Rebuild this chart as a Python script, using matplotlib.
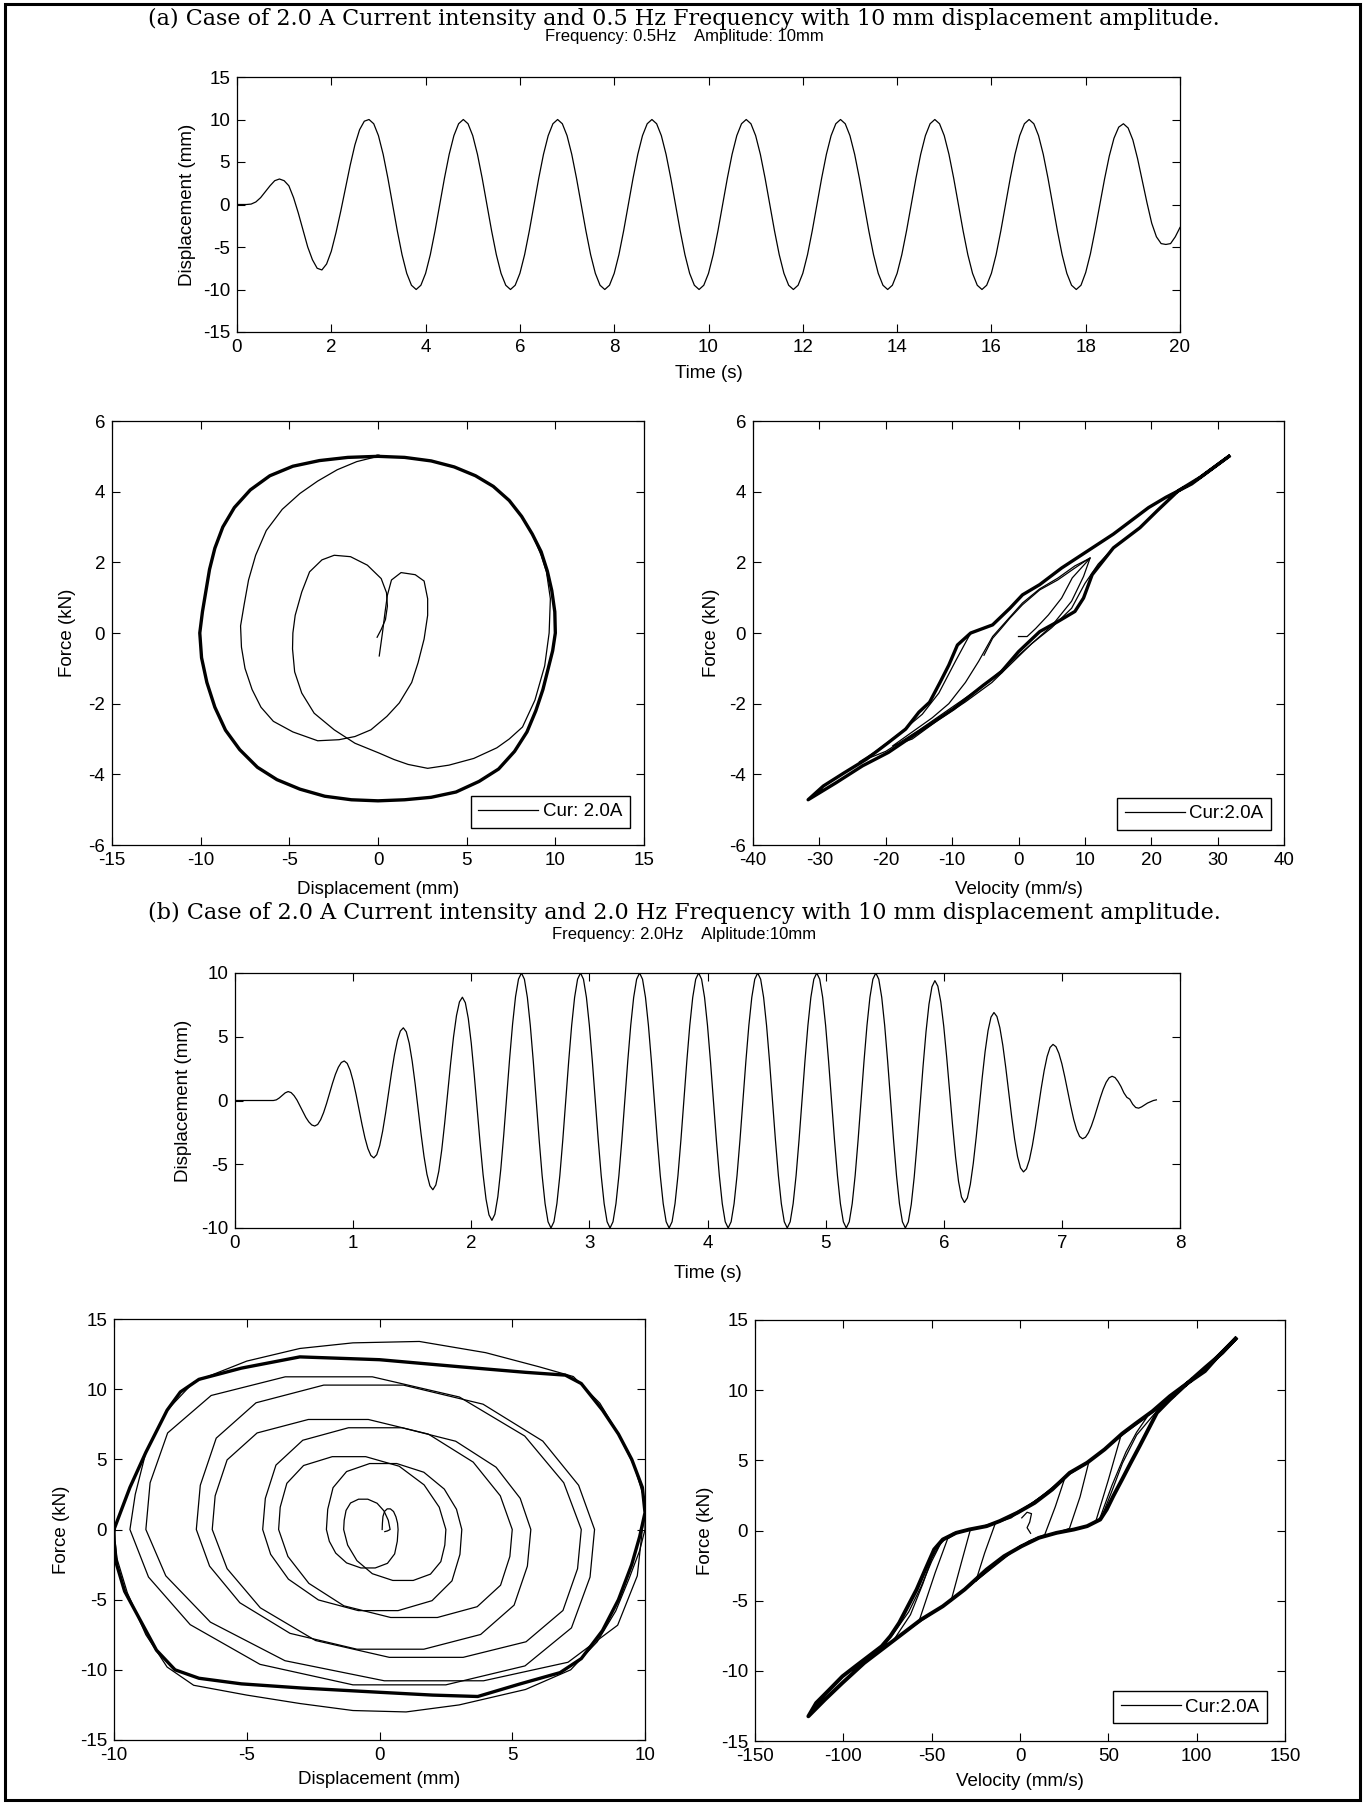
import numpy as np
import matplotlib
matplotlib.use("Agg")
import matplotlib.pyplot as plt
from matplotlib.patches import Rectangle

plt.rcParams["font.family"] = ["Liberation Sans", "DejaVu Sans"]
plt.rcParams["axes.unicode_minus"] = False

W, H = 1367, 1804

# displacement history, 0.5 Hz run, sampled every 0.1 s
time_a = np.round(np.arange(0, 20.05, 0.1), 1)
disp_a = [
    0.0, 0.0, 0.0, 0.05, 0.3, 0.8, 1.5, 2.2, 2.8, 3.0,
    2.8, 2.2, 0.8, -1.0, -3.0, -5.0, -6.5, -7.5, -7.7, -7.0,
    -5.5, -3.3, -0.8, 1.9, 4.6, 7.0, 8.8, 9.8, 10.0, 9.5,
    8.1, 5.9, 3.1, 0.0, -3.1, -5.9, -8.1, -9.5, -10.0, -9.5, -8.1, -5.9, -3.1, 0.0, 3.1, 5.9, 8.1, 9.5, 10.0, 9.5,
    8.1, 5.9, 3.1, 0.0, -3.1, -5.9, -8.1, -9.5, -10.0, -9.5, -8.1, -5.9, -3.1, 0.0, 3.1, 5.9, 8.1, 9.5, 10.0, 9.5,
    8.1, 5.9, 3.1, 0.0, -3.1, -5.9, -8.1, -9.5, -10.0, -9.5, -8.1, -5.9, -3.1, 0.0, 3.1, 5.9, 8.1, 9.5, 10.0, 9.5,
    8.1, 5.9, 3.1, 0.0, -3.1, -5.9, -8.1, -9.5, -10.0, -9.5, -8.1, -5.9, -3.1, 0.0, 3.1, 5.9, 8.1, 9.5, 10.0, 9.5,
    8.1, 5.9, 3.1, 0.0, -3.1, -5.9, -8.1, -9.5, -10.0, -9.5, -8.1, -5.9, -3.1, 0.0, 3.1, 5.9, 8.1, 9.5, 10.0, 9.5,
    8.1, 5.9, 3.1, 0.0, -3.1, -5.9, -8.1, -9.5, -10.0, -9.5, -8.1, -5.9, -3.1, 0.0, 3.1, 5.9, 8.1, 9.5, 10.0, 9.5,
    8.1, 5.9, 3.1, 0.0, -3.1, -5.9, -8.1, -9.5, -10.0, -9.5, -8.1, -5.9, -3.1, 0.0, 3.1, 5.9, 8.1, 9.5, 10.0, 9.5,
    8.1, 5.9, 3.1, 0.0, -3.1, -5.9, -8.1, -9.5, -10.0, -9.5,
    -8.0, -5.8, -3.0, 0.0, 3.0, 5.7, 7.8, 9.1, 9.5, 9.0,
    7.6, 5.4, 2.8, 0.2, -2.2, -3.8, -4.6, -4.7, -4.6, -3.8, -2.7,
]

# displacement history, 2.0 Hz run, sampled every 0.025 s
time_b = np.round(np.arange(0, 7.8125, 0.025), 3)
disp_b = [
    0.0, 0.0, 0.0, 0.0, 0.0, 0.0, 0.0, 0.0, 0.0, 0.0, 0.0, 0.0, 0.0, 0.0,
    0.05, 0.2, 0.4, 0.6, 0.7,
    0.62, 0.38, 0.03, -0.42, -0.88, -1.33, -1.68, -1.92, -2.0,
    -1.88, -1.51, -0.95, -0.24, 0.55, 1.34, 2.05, 2.61, 2.98, 3.1,
    2.91, 2.37, 1.53, 0.47, -0.7, -1.87, -2.93, -3.77, -4.31, -4.5,
    -4.25, -3.53, -2.4, -0.98, 0.6, 2.18, 3.6, 4.73, 5.45, 5.7,
    5.39, 4.49, 3.08, 1.31, -0.65, -2.61, -4.38, -5.79, -6.69, -7.0,
    -6.63, -5.56, -3.89, -1.78, 0.55, 2.88, 4.99, 6.66, 7.73, 8.1,
    7.67, 6.43, 4.5, 2.05, -0.65, -3.35, -5.8, -7.73, -8.97, -9.4,
    -8.92, -7.55, -5.4, -2.7, 0.3, 3.3, 6.0, 8.15, 9.52, 10.0,
    9.51, 8.09, 5.88, 3.09, 0.0, -3.09, -5.88, -8.09, -9.51, -10.0, -9.51, -8.09, -5.88, -3.09, 0.0, 3.09, 5.88, 8.09, 9.51, 10.0,
    9.51, 8.09, 5.88, 3.09, 0.0, -3.09, -5.88, -8.09, -9.51, -10.0, -9.51, -8.09, -5.88, -3.09, 0.0, 3.09, 5.88, 8.09, 9.51, 10.0,
    9.51, 8.09, 5.88, 3.09, 0.0, -3.09, -5.88, -8.09, -9.51, -10.0, -9.51, -8.09, -5.88, -3.09, 0.0, 3.09, 5.88, 8.09, 9.51, 10.0,
    9.51, 8.09, 5.88, 3.09, 0.0, -3.09, -5.88, -8.09, -9.51, -10.0, -9.51, -8.09, -5.88, -3.09, 0.0, 3.09, 5.88, 8.09, 9.51, 10.0,
    9.51, 8.09, 5.88, 3.09, 0.0, -3.09, -5.88, -8.09, -9.51, -10.0, -9.51, -8.09, -5.88, -3.09, 0.0, 3.09, 5.88, 8.09, 9.51, 10.0,
    9.51, 8.09, 5.88, 3.09, 0.0, -3.09, -5.88, -8.09, -9.51, -10.0, -9.51, -8.09, -5.88, -3.09, 0.0, 3.09, 5.88, 8.09, 9.51, 10.0,
    9.51, 8.09, 5.88, 3.09, 0.0, -3.09, -5.88, -8.09, -9.51, -10.0,
    -9.52, -8.15, -6.0, -3.3, -0.3, 2.7, 5.4, 7.55, 8.92, 9.4,
    8.97, 7.74, 5.82, 3.39, 0.7, -1.99, -4.42, -6.34, -7.57, -8.0,
    -7.64, -6.58, -4.93, -2.85, -0.55, 1.75, 3.83, 5.48, 6.54, 6.9,
    6.59, 5.71, 4.33, 2.58, 0.65, -1.28, -3.03, -4.41, -5.29, -5.6,
    -5.36, -4.65, -3.54, -2.15, -0.6, 0.95, 2.34, 3.45, 4.16, 4.4,
    4.22, 3.69, 2.88, 1.84, 0.7, -0.44, -1.48, -2.29, -2.82, -3.0,
    -2.88, -2.53, -1.99, -1.31, -0.55, 0.21, 0.89, 1.43, 1.78, 1.9,
    1.8, 1.5, 1.1, 0.6, 0.25, 0.1, -0.3, -0.55, -0.6, -0.5, -0.35, -0.2, -0.1, 0.0, 0.05,
]

# force-displacement, 0.5 Hz (mm, kN)
fd_a_start = [(0.07, -0.65), (0.25, 0.0), (0.4, 0.6), (0.53, 1.07), (0.76, 1.5), (1.3, 1.71), (2.1, 1.65),
              (2.6, 1.47), (2.8, 0.97), (2.8, 0.5), (2.6, -0.17), (2.26, -0.84), (1.9, -1.4), (1.2, -1.98),
              (0.5, -2.36), (-0.4, -2.74), (-1.3, -2.93), (-2.2, -3.02), (-3.4, -3.05), (-4.8, -2.8),
              (-5.9, -2.5), (-6.6, -2.1), (-7.1, -1.6), (-7.5, -1.0), (-7.7, -0.4), (-7.75, 0.2), (-7.55, 0.8),
              (-7.3, 1.5), (-6.9, 2.2), (-6.3, 2.9), (-5.4, 3.5), (-4.4, 3.95), (-3.4, 4.3), (-2.3, 4.62),
              (-1.2, 4.85), (0.0, 5.0)]
fd_a_loop = [(0.0, 5.0), (1.5, 4.97), (3.0, 4.87), (4.3, 4.7), (5.5, 4.45), (6.5, 4.15), (7.4, 3.75), (8.1, 3.3),
             (8.7, 2.8), (9.2, 2.3), (9.55, 1.75), (9.8, 1.2), (9.97, 0.6), (10.0, 0.0), (9.85, -0.5), (9.6, -1.0),
             (9.3, -1.6), (8.9, -2.2), (8.4, -2.8), (7.7, -3.35), (6.8, -3.85), (5.7, -4.2), (4.4, -4.5),
             (3.0, -4.65), (1.5, -4.72), (0.0, -4.75), (-1.5, -4.72), (-3.0, -4.62), (-4.4, -4.42), (-5.7, -4.15),
             (-6.8, -3.8), (-7.8, -3.3), (-8.6, -2.75), (-9.2, -2.1), (-9.65, -1.4), (-9.95, -0.7), (-10.05, 0.0),
             (-9.9, 0.6), (-9.7, 1.2), (-9.5, 1.8), (-9.2, 2.4), (-8.75, 3.0), (-8.1, 3.55), (-7.2, 4.05),
             (-6.1, 4.45), (-4.8, 4.72), (-3.3, 4.88), (-1.7, 4.97), (0.0, 5.0)]
fd_a_end = [(8.7, 2.8), (9.2, 2.2), (9.5, 1.73), (9.72, 0.97), (9.65, 0.0), (9.4, -0.93), (8.85, -1.9),
            (8.15, -2.66), (7.4, -3.0), (6.7, -3.25), (5.4, -3.55), (4.0, -3.74), (2.8, -3.83), (1.7, -3.72),
            (0.9, -3.58), (0.07, -3.4), (-1.3, -3.12), (-2.47, -2.74), (-3.6, -2.27), (-4.3, -1.7), (-4.7, -1.1),
            (-4.82, -0.45), (-4.8, 0.0), (-4.67, 0.5), (-4.3, 1.16), (-3.86, 1.73), (-3.16, 2.07), (-2.47, 2.2),
            (-1.55, 2.16), (-0.6, 1.92), (0.18, 1.54), (0.48, 1.14), (0.53, 0.76), (0.42, 0.38), (0.18, 0.1),
            (-0.05, -0.12)]

# force-velocity, 0.5 Hz (mm/s, kN)
fv_a_loop = [(31.7, 5.0), (26.1, 4.22), (22.2, 3.84), (19.6, 3.55), (14.3, 2.8), (10.4, 2.32), (6.5, 1.84),
             (3.2, 1.37), (0.6, 1.08), (-1.3, 0.7), (-3.9, 0.23), (-7.2, 0.0), (-9.2, -0.34), (-10.5, -0.91),
             (-11.8, -1.39), (-13.4, -1.96), (-15.0, -2.24), (-17.0, -2.72), (-19.6, -3.1), (-22.9, -3.57),
             (-26.2, -3.95), (-29.4, -4.33), (-31.7, -4.72),
             (-27.5, -4.24), (-23.5, -3.76), (-19.6, -3.38), (-14.4, -2.72), (-9.8, -2.15), (-5.3, -1.48),
             (-2.6, -1.1), (0.0, -0.53), (3.2, 0.04), (5.9, 0.32), (8.5, 0.61), (9.8, 0.99), (11.1, 1.65),
             (12.7, 2.03), (14.3, 2.41), (18.3, 2.98), (20.9, 3.46), (24.1, 4.03), (27.4, 4.41), (31.7, 5.0)]
fv_a_start = [(0.0, -0.1), (1.3, -0.1), (2.6, 0.13), (4.5, 0.51), (6.5, 0.99), (8.1, 1.56), (10.8, 2.12),
              (8.5, 1.9), (5.9, 1.55), (3.2, 1.25), (0.6, 0.85), (-1.3, 0.45), (-3.9, -0.1), (-6.0, -0.8),
              (-8.0, -1.4), (-10.5, -2.0), (-13.0, -2.4), (-16.0, -2.8), (-19.0, -3.2), (-16.0, -3.0),
              (-12.0, -2.45), (-8.0, -1.95), (-4.0, -1.4), (-1.0, -0.85), (2.0, -0.3), (5.0, 0.15), (8.0, 0.7),
              (10.0, 1.4), (12.0, 1.95), (14.3, 2.41)]
fv_a_end = [(-7.2, 0.0), (-9.5, -0.8), (-12.0, -1.7), (-14.5, -2.3), (-18.0, -2.85), (-21.5, -3.35),
            (-24.0, -3.65), (-20.0, -3.35), (-15.0, -2.75), (-10.0, -2.1), (-5.0, -1.45), (-1.0, -0.8),
            (2.0, -0.3), (5.0, 0.2), (8.0, 0.9), (9.8, 1.6), (10.8, 2.13), (8.5, 1.84), (5.9, 1.5), (3.2, 1.22),
            (0.6, 0.8), (-1.3, 0.42), (-2.6, 0.13), (-3.9, -0.15), (-5.2, -0.63)]

# force-displacement, 2.0 Hz: growing cycles, steady cycle, decaying cycles
fd_b_grow = [(0.1, 0.0),
             (0.11, 0.45), (0.13, 0.93), (0.19, 1.29), (0.29, 1.47), (0.41, 1.47), (0.53, 1.28), (0.62, 0.9), (0.68, 0.45), (0.7, 0.0),
             (0.67, -0.84), (0.57, -1.74), (0.3, -2.41), (-0.16, -2.74), (-0.7, -2.74), (-1.24, -2.38), (-1.65, -1.68), (-1.89, -0.84), (-2.0, 0.0),
             (-1.95, 1.44), (-1.75, 2.98), (-1.24, 4.13), (-0.37, 4.7), (0.65, 4.7), (1.67, 4.08), (2.44, 2.88), (2.9, 1.44), (3.1, 0.0),
             (3.03, -1.77), (2.73, -3.66), (1.98, -5.07), (0.7, -5.78), (-0.8, -5.78), (-2.3, -5.02), (-3.43, -3.54), (-4.1, -1.77), (-4.4, 0.0),
             (-4.3, 2.22), (-3.9, 4.59), (-2.89, 6.36), (-1.17, 7.25), (0.85, 7.25), (2.87, 6.29), (4.39, 4.44), (5.3, 2.22), (5.7, 0.0),
             (5.57, -2.61), (5.07, -5.39), (3.81, -7.48), (1.67, -8.53), (-0.85, -8.53), (-3.37, -7.4), (-5.26, -5.22), (-6.4, -2.61), (-6.9, 0.0),
             (-6.75, 3.15), (-6.15, 6.51), (-4.65, 9.03), (-2.1, 10.29), (0.9, 10.29), (3.9, 8.93), (6.15, 6.3), (7.5, 3.15), (8.1, 0.0),
             (7.93, -3.39), (7.23, -7.01), (5.48, -9.72), (2.5, -11.07), (-1.0, -11.07), (-4.5, -9.61), (-7.13, -6.78), (-8.7, -3.39), (-9.4, 0.0),
             (-9.2, 2.5), (-8.8, 5.5), (-8.0, 8.5), (-7.0, 10.5), (-5.0, 12.0), (-3.0, 12.9), (-1.0, 13.3), (1.5, 13.4),
             (4.0, 12.6), (6.0, 11.6), (7.3, 10.9), (8.3, 9.0), (9.0, 6.8), (9.6, 4.5), (10.0, 2.0), (10.0, 0.0),
             (9.8, -1.5), (9.4, -3.5), (8.9, -5.8), (8.2, -8.0), (7.2, -10.0), (5.5, -11.4), (3.0, -12.5), (1.0, -13.0),
             (-1.0, -12.9), (-3.0, -12.4), (-5.0, -11.8), (-7.0, -11.1), (-8.0, -9.8), (-8.8, -7.5), (-9.5, -4.5),
             (-9.9, -2.0), (-10.0, 0.0)]
fd_b_steady = [(-10.0, 0.0), (-9.8, 1.0), (-9.4, 3.0), (-8.8, 5.5), (-8.0, 8.5), (-7.5, 9.8), (-6.8, 10.7),
               (-5.2, 11.5), (-3.0, 12.3), (0.0, 12.1), (3.0, 11.6), (5.5, 11.2), (7.0, 11.0), (7.6, 10.4),
               (8.4, 8.5), (9.0, 6.8), (9.5, 5.0), (9.9, 3.0), (10.0, 1.2), (9.8, -0.5), (9.5, -2.5), (9.0, -5.0),
               (8.4, -7.2), (7.6, -9.2), (6.8, -10.2), (5.3, -11.0), (3.7, -11.9), (2.0, -11.8), (0.0, -11.6),
               (-2.9, -11.3), (-5.2, -11.0), (-6.8, -10.6), (-7.7, -10.0), (-8.4, -8.6), (-9.0, -6.5),
               (-9.6, -4.4), (-9.9, -2.5), (-10.0, -0.8), (-10.0, 0.0)]
fd_b_decay = [(10.0, 1.2), (9.9, 0.0),
              (9.71, -3.3), (8.97, -6.82), (7.1, -9.46), (3.92, -10.78), (0.18, -10.78), (-3.56, -9.35), (-6.37, -6.6), (-8.05, -3.3), (-8.8, 0.0),
              (-8.64, 3.33), (-7.98, 6.88), (-6.34, 9.55), (-3.55, 10.88), (-0.27, 10.88), (3.01, 9.44), (5.47, 6.66), (6.94, 3.33), (7.6, 0.0),
              (7.46, -2.79), (6.91, -5.77), (5.52, -8.0), (3.15, -9.11), (0.37, -9.11), (-2.41, -7.91), (-4.49, -5.58), (-5.74, -2.79), (-6.3, 0.0),
              (-6.19, 2.4), (-5.74, 4.96), (-4.61, 6.88), (-2.68, 7.84), (-0.42, 7.84), (1.84, 6.8), (3.53, 4.8), (4.55, 2.4), (5.0, 0.0),
              (4.91, -1.92), (4.56, -3.97), (3.68, -5.5), (2.18, -6.27), (0.42, -6.27), (-1.34, -5.44), (-2.66, -3.84), (-3.45, -1.92), (-3.8, 0.0),
              (-3.74, 1.59), (-3.49, 3.29), (-2.86, 4.56), (-1.78, 5.19), (-0.52, 5.19), (0.74, 4.51), (1.68, 3.18), (2.25, 1.59), (2.5, 0.0),
              (2.46, -1.11), (2.31, -2.29), (1.92, -3.18), (1.27, -3.63), (0.5, -3.63), (-0.27, -3.15), (-0.85, -2.22), (-1.2, -1.11), (-1.35, 0.0),
              (-1.33, 0.66), (-1.26, 1.36), (-1.09, 1.89), (-0.79, 2.16), (-0.44, 2.16), (-0.09, 1.87), (0.17, 1.32), (0.33, 0.66), (0.4, 0.0),
              (0.3, -0.1), (0.2, -0.15)]

# force-velocity, 2.0 Hz
fv_b_steady = [(122, 13.67), (112, 12.4), (104.7, 11.36), (94.8, 10.5), (84.9, 9.58), (75, 8.5), (65.2, 7.6),
               (57.8, 6.9), (47.9, 5.78), (38, 4.83), (28.1, 4.11), (18.2, 2.92), (8.3, 1.97), (-1.6, 1.26),
               (-11.5, 0.67), (-18.9, 0.31), (-28.8, 0.07), (-36.2, -0.17), (-43.7, -0.64), (-48.6, -1.35),
               (-53.6, -2.78), (-58.5, -4.2), (-63.5, -5.4), (-68.4, -6.58), (-73.4, -7.53), (-78.3, -8.25),
               (-85.7, -8.96), (-93.1, -9.67), (-100.5, -10.39), (-107.9, -11.34), (-115.4, -12.29), (-119.8, -13.24),
               (-110.4, -12.05), (-100.5, -10.86), (-88.2, -9.44), (-75.8, -8.25), (-65.9, -7.3), (-56, -6.35),
               (-43.7, -5.4), (-31.3, -4.2), (-18.9, -2.78), (-9.0, -1.83), (0.9, -1.12), (10.7, -0.52),
               (20.6, -0.17), (30.5, 0.07), (38, 0.31), (45.4, 0.78), (49.1, 1.5), (52.8, 2.45), (57.8, 3.64),
               (62.7, 4.83), (67.7, 6.01), (72.6, 7.2), (77.5, 8.39), (84.9, 9.34), (94.8, 10.5), (104.7, 11.6),
               (114.6, 12.67), (122, 13.67)]
fv_b_start = [(1.0, 0.9), (4.0, 1.3), (6.5, 1.2), (5.5, 0.6), (4.0, 0.2), (6.0, -0.2)]
fv_b_loop25 = [(-25, -3.6), (-15, -2.6), (-5, -1.6), (5, -0.75), (14, -0.3), (20, 1.7), (25, 3.6), (15, 2.7),
               (5, 1.8), (-5, 0.9), (-14, 0.5), (-20, -1.6), (-25, -3.6)]
fv_b_loop39 = [(-39, -5.0), (-25, -3.6), (-10, -2.0), (0, -1.1), (10, -0.5), (22, -0.1), (28, 0.15), (34, 2.4),
               (39, 4.9), (28, 4.0), (15, 2.7), (0, 1.3), (-12, 0.65), (-22, 0.25), (-28, 0.1), (-33, -2.2),
               (-39, -5.0)]
fv_b_loop57 = [(-57, -6.4), (-44, -5.4), (-31, -4.2), (-19, -2.8), (-9, -1.8), (1, -1.1), (11, -0.5), (21, -0.2),
               (31, 0.1), (38, 0.3), (43, 0.7), (50, 3.6), (57, 6.7), (48, 5.8), (38, 4.8), (28, 4.1), (18, 2.9),
               (8, 2.0), (-2, 1.3), (-12, 0.65), (-19, 0.3), (-29, 0.05), (-36, -0.2), (-41, -0.6), (-48, -3.0),
               (-57, -6.4)]
fv_b_loop72 = [(-72, -7.9), (-60, -6.7), (-45, -5.5), (-30, -4.1), (-15, -2.5), (0, -1.1), (12, -0.5), (25, -0.05),
               (38, 0.3), (45, 0.8), (52, 3.2), (60, 5.6), (66, 7.0), (72, 8.1), (60, 7.0), (48, 5.8), (38, 4.8),
               (28, 4.1), (18, 2.9), (8, 2.0), (-2, 1.3), (-12, 0.65), (-20, 0.3), (-30, 0.05), (-38, -0.2),
               (-45, -0.9), (-50, -2.0), (-55, -3.8), (-62, -6.0), (-72, -7.9)]
fv_b_loop88 = [(-88, -9.4), (-75, -8.2), (-60, -6.8), (-45, -5.5), (-30, -4.1), (-15, -2.5), (0, -1.1), (12, -0.5),
               (25, -0.05), (38, 0.3), (46, 0.9), (52, 2.8), (58, 4.8), (66, 6.8), (76, 8.3), (88, 9.6), (75, 8.4),
               (62, 7.3), (50, 6.0), (38, 4.8), (25, 3.8), (12, 2.4), (0, 1.4), (-12, 0.65), (-25, 0.15),
               (-36, -0.2), (-44, -0.7), (-50, -2.2), (-56, -4.0), (-63, -5.8), (-72, -7.4), (-80, -8.6), (-88, -9.4)]

title_a = "(a) Case of 2.0 A Current intensity and 0.5 Hz Frequency with 10 mm displacement amplitude."
title_b = "(b) Case of 2.0 A Current intensity and 2.0 Hz Frequency with 10 mm displacement amplitude."
sub_a = "Frequency: 0.5Hz    Amplitude: 10mm"
sub_b = "Frequency: 2.0Hz    Alplitude:10mm"

FS = 13.5
THIN, THICK = 0.9, 2.4


def px_axes(fig, left, top, right, bottom):
    return fig.add_axes([left / W, 1 - bottom / H, (right - left) / W, (bottom - top) / H])


def matlab_style(ax, xlim, xticks, ylim, yticks, xlabel, ylabel, xoff, yoff):
    ax.set_xlim(xlim)
    ax.set_ylim(ylim)
    ax.set_xticks(xticks)
    ax.set_yticks(yticks)
    ax.tick_params(direction="in", top=True, right=True, length=5.8, width=0.8, labelsize=FS, pad=5)
    for s in ax.spines.values():
        s.set_linewidth(0.9)
    ax.set_xlabel(xlabel, fontsize=FS, va="center")
    ax.set_ylabel(ylabel, fontsize=FS, va="center")
    bb = ax.get_position()
    ax.xaxis.set_label_coords(0.5, -xoff / (bb.height * H))
    ax.yaxis.set_label_coords(-yoff / (bb.width * W), 0.5)


def trace(ax, pts, lw=THIN, **kw):
    x, y = np.array(pts, dtype=float).T
    return ax.plot(x, y, color="black", lw=lw, **kw)[0]


def add_legend(ax, right_px, bottom_px):
    bb = ax.get_position()
    leg = ax.legend(loc="lower right", fontsize=FS, frameon=True, fancybox=False, framealpha=1,
                    edgecolor="black", handlelength=3.2, handletextpad=0.25, borderpad=0.4,
                    borderaxespad=0,
                    bbox_to_anchor=(1 - right_px / (bb.width * W), bottom_px / (bb.height * H)))
    leg.get_frame().set_linewidth(1.0)


fig = plt.figure(figsize=(W / 100, H / 100), dpi=100)

# case (a): 0.5 Hz
# ===============
fig.text(684 / W, 1 - 19 / H, title_a, ha="center", va="center", family="DejaVu Serif", fontsize=16)
fig.text(684 / W, 1 - 36 / H, sub_a, ha="center", va="center", fontsize=12)

ax = px_axes(fig, 237, 77, 1180, 332)
ax.plot(time_a, disp_a, color="black", lw=THIN)
matlab_style(ax, (0, 20), np.arange(0, 21, 2), (-15, 15), np.arange(-15, 16, 5),
             "Time (s)", "Displacement (mm)", 41, 50)

ax = px_axes(fig, 112, 421, 644, 845)
trace(ax, fd_a_start, label="Cur: 2.0A")
trace(ax, fd_a_loop, lw=THICK)
trace(ax, fd_a_end)
matlab_style(ax, (-15, 15), np.arange(-15, 16, 5), (-6, 6), np.arange(-6, 7, 2),
             "Displacement (mm)", "Force (kN)", 44, 45)
add_legend(ax, 14, 17)

ax = px_axes(fig, 753, 421, 1284, 845)
trace(ax, fv_a_start, label="Cur:2.0A")
trace(ax, fv_a_loop, lw=THICK)
trace(ax, fv_a_end)
matlab_style(ax, (-40, 40), np.arange(-40, 41, 10), (-6, 6), np.arange(-6, 7, 2),
             "Velocity (mm/s)", "Force (kN)", 44, 41)
add_legend(ax, 13, 15)

# case (b): 2.0 Hz
# ===============
fig.text(684 / W, 1 - 913 / H, title_b, ha="center", va="center", family="DejaVu Serif", fontsize=16)
fig.text(684 / W, 1 - 935 / H, sub_b, ha="center", va="center", fontsize=12)

ax = px_axes(fig, 235, 973, 1180, 1228)
ax.plot(time_b, disp_b, color="black", lw=THIN)
matlab_style(ax, (0, 8), np.arange(0, 9, 1), (-10, 10), np.arange(-10, 11, 5),
             "Time (s)", "Displacement (mm)", 46, 51)

ax = px_axes(fig, 114, 1319, 645, 1740)
trace(ax, fd_b_grow)
trace(ax, fd_b_steady, lw=THICK)
trace(ax, fd_b_decay)
matlab_style(ax, (-10, 10), np.arange(-10, 11, 5), (-15, 15), np.arange(-15, 16, 5),
             "Displacement (mm)", "Force (kN)", 40, 53)

ax = px_axes(fig, 755, 1320, 1285, 1741)
trace(ax, fv_b_start, label="Cur:2.0A")
for loop in (fv_b_loop25, fv_b_loop39, fv_b_loop57, fv_b_loop72, fv_b_loop88):
    trace(ax, loop)
trace(ax, fv_b_steady, lw=2.8)
matlab_style(ax, (-150, 150), np.arange(-150, 151, 50), (-15, 15), np.arange(-15, 16, 5),
             "Velocity (mm/s)", "Force (kN)", 40, 50)
add_legend(ax, 18, 18)

# page frame
fig.add_artist(Rectangle((5 / W, 4 / H), 1355 / W, 1796 / H, transform=fig.transFigure,
                         fill=False, edgecolor="black", linewidth=2.2))

fig.savefig("out.png", dpi=100)
